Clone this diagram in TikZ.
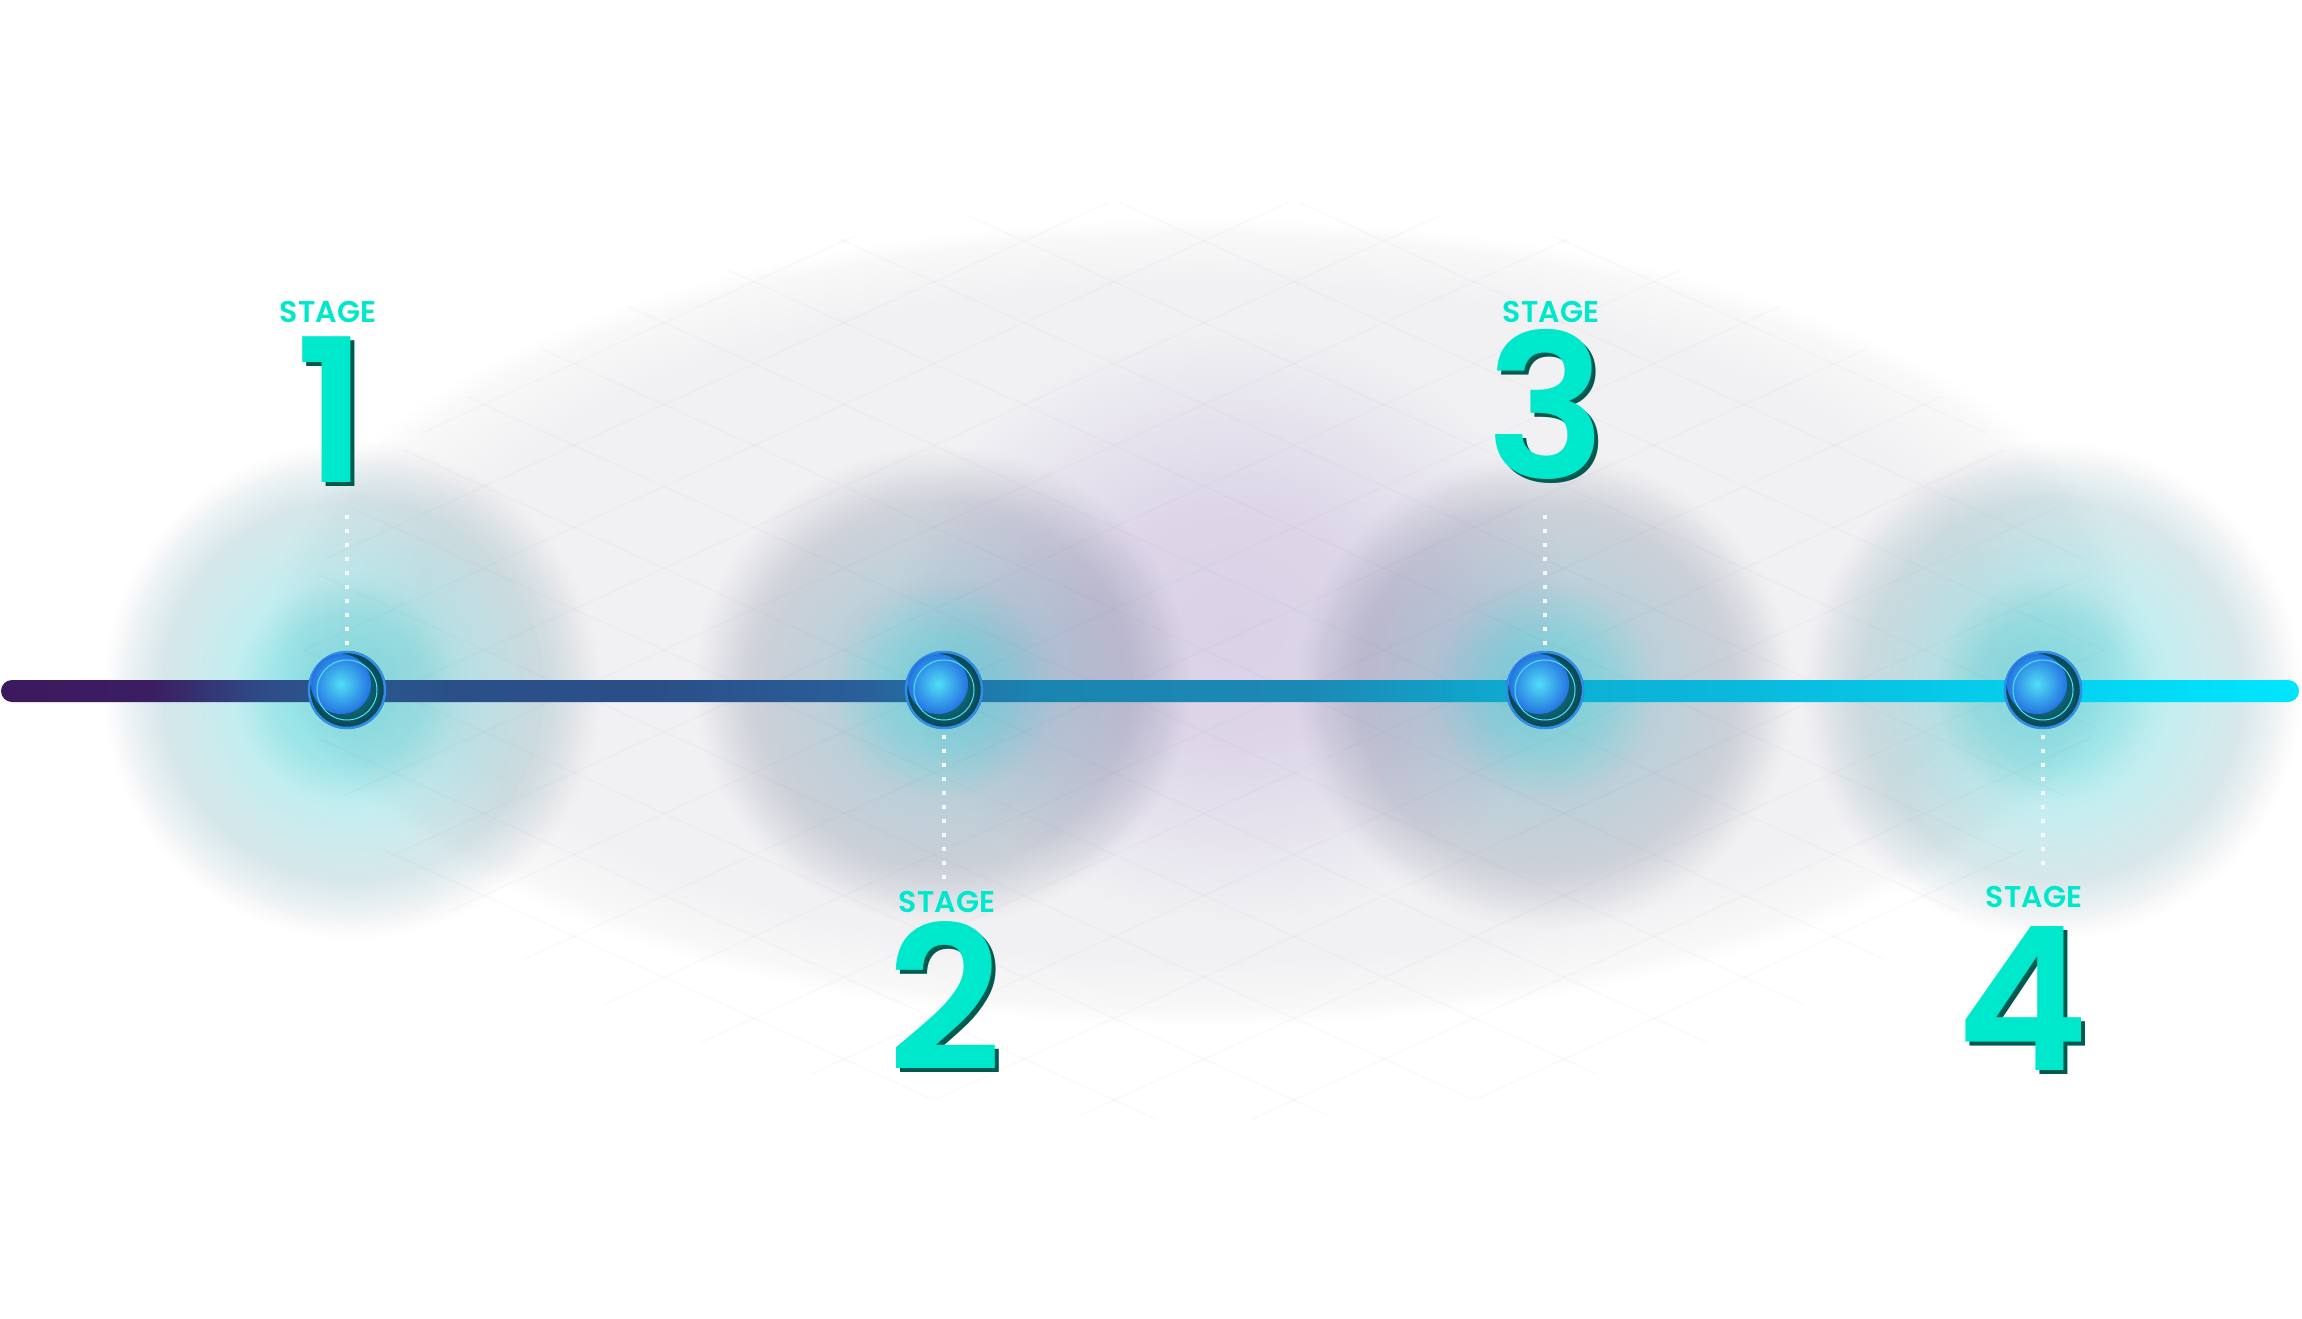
\documentclass[tikz,border=0pt]{standalone}
\usepackage{fontspec}
\setmainfont{Poppins}
\newfontfamily\popsemi{Poppins SemiBold}
\definecolor{stagecol}{HTML}{00E8CC}
\definecolor{shadowcol}{HTML}{005A50}
\definecolor{ringdark}{HTML}{0B4654}
\definecolor{ringmid}{HTML}{138C9C}
\definecolor{ringblue}{HTML}{2F8FE8}
\definecolor{ballhi}{HTML}{52DDF6}
\definecolor{balllo}{HTML}{2474E2}
\definecolor{ballrim}{HTML}{4FE3F5}
\definecolor{glowcyan}{HTML}{B4F0F0}
\definecolor{glowcore}{HTML}{D6F8FA}
\definecolor{glowgray}{HTML}{EAEBEE}
\definecolor{glowgraylt}{HTML}{F8F8FA}
\definecolor{glowbluec}{HTML}{B2EAEE}
\definecolor{glowblue}{HTML}{CCE2E8}
\definecolor{glowbluelt}{HTML}{E8EDF2}
\definecolor{glowpurple}{HTML}{E6DEF2}
\definecolor{bggray}{HTML}{F1F1F3}
\definecolor{gridcol}{HTML}{8A8AA8}
\definecolor{dotcol}{HTML}{F6F8FA}
\definecolor{lc0}{HTML}{3C195E}
\definecolor{lc1}{HTML}{3B1E62}
\definecolor{lc2}{HTML}{2E4C88}
\definecolor{lc3}{HTML}{2A5890}
\definecolor{lc4}{HTML}{2B5088}
\definecolor{lc5}{HTML}{2B4E88}
\definecolor{lc6}{HTML}{2A5E98}
\definecolor{lc7}{HTML}{2270A8}
\definecolor{lc8}{HTML}{1A85B0}
\definecolor{lc9}{HTML}{1C88B4}
\definecolor{lc10}{HTML}{12A0C8}
\definecolor{lc11}{HTML}{0CB0D4}
\definecolor{lc12}{HTML}{0BB6DA}
\definecolor{lc13}{HTML}{05D0EE}
\definecolor{lc14}{HTML}{00E6FF}
\pgfdeclarehorizontalshading{lineshade}{50bp}{%
  color(0bp)=(lc0); color(3.3bp)=(lc1); color(5.7bp)=(lc2); color(7.5bp)=(lc3);
  color(9.8bp)=(lc4); color(14.1bp)=(lc5); color(18.5bp)=(lc6); color(20.5bp)=(lc7);
  color(22.6bp)=(lc8); color(28.3bp)=(lc9); color(31.5bp)=(lc10); color(33.6bp)=(lc11);
  color(37bp)=(lc12); color(44.4bp)=(lc13); color(50bp)=(lc14)}
% path edge corresponds to 25bp
\pgfdeclareradialshading{bgshade}{\pgfpointorigin}{%
  color(0bp)=(bggray); color(21bp)=(bggray); color(24bp)=(bggray!45!white); color(25bp)=(white); color(50bp)=(white)}
\pgfdeclareradialshading{cyanshade}{\pgfpointorigin}{%
  color(0bp)=(glowcyan); color(8bp)=(glowcyan); color(17bp)=(glowcyan!45!white); color(25bp)=(white); color(50bp)=(white)}
\pgfdeclareradialshading{blueshade}{\pgfpointorigin}{%
  color(0bp)=(glowbluec); color(6bp)=(glowbluec); color(12bp)=(glowblue); color(19bp)=(glowbluelt); color(25bp)=(white); color(50bp)=(white)}
\pgfdeclareradialshading{grayshade}{\pgfpointorigin}{%
  color(0bp)=(glowgraylt); color(12bp)=(glowgraylt); color(19bp)=(glowgray); color(23bp)=(glowgray!50!white); color(25bp)=(white); color(50bp)=(white)}
\pgfdeclareradialshading{purpleshade}{\pgfpointorigin}{%
  color(0bp)=(glowpurple); color(10bp)=(glowpurple!85!white); color(25bp)=(white); color(50bp)=(white)}
\pgfdeclareradialshading{coreshade}{\pgfpointorigin}{%
  color(0bp)=(glowcore); color(10bp)=(glowcore); color(25bp)=(white); color(50bp)=(white)}
\tikzset{
  digit/.style={text=stagecol, font=\popsemi\fontsize{200}{200}\selectfont, inner sep=0pt, anchor=base},
  digitshadow/.style={text=shadowcol, font=\popsemi\fontsize{200}{200}\selectfont, inner sep=0pt, anchor=base},
  stagelbl/.style={text=stagecol, font=\popsemi\fontsize{30}{30}\selectfont, inner sep=0pt, anchor=base},
  stagenode/.style={circle, minimum size=80pt, inner sep=0pt},
  dotline/.style={draw=dotcol, line width=3.5pt, dash pattern=on 3.5pt off 10.5pt},
  gridline/.style={draw=gridcol, opacity=0.035, line width=2pt},
  mult/.style={blend mode=multiply},
}
\newcommand{\drawball}[1]{%
  \fill[ringdark] (#1) circle (39);
  \shade[inner color=ringmid, outer color=ringdark] (#1) circle (37);
  \draw[ringblue, line width=2.5pt] (#1) circle (38);
  \shade[inner color=ballhi, outer color=balllo] ([xshift=-6pt,yshift=6pt]#1) circle (30);
  \draw[ballrim, line width=1pt] (#1) circle (30);
}
\begin{document}
\begin{tikzpicture}[x=1pt,y=-1pt]
\useasboundingbox (0,0) rectangle (2302,1319);
\fill[white] (0,0) rectangle (2302,1319);
% big soft ellipse
\shade[shading=bgshade] (1204,622) ellipse (935 and 405);
% grid
\begin{scope}
\clip (1204,660) ellipse (900 and 460);
\foreach \i in {-14,...,14} {
  \draw[gridline] ({1204+\i*180-1100},{650-500}) -- ({1204+\i*180+1100},{650+500});
  \draw[gridline] ({1204+\i*180+1100},{650-500}) -- ({1204+\i*180-1100},{650+500});
}
\end{scope}
% glows
\begin{scope}[mult]
\shade[shading=purpleshade] (1233,625) ellipse (340 and 300);
\shade[shading=grayshade] (352,690) circle (250);
\shade[shading=grayshade] (2052,690) circle (250);
\shade[shading=grayshade] (942,685) ellipse (250 and 240);
\shade[shading=grayshade] (1545,690) ellipse (250 and 240);
\shade[shading=cyanshade] (350,690) circle (235);
\shade[shading=cyanshade] (2050,690) circle (235);
\shade[shading=blueshade] (944,690) ellipse (235 and 225);
\shade[shading=blueshade] (1545,690) ellipse (235 and 225);
\foreach \x in {347,944,1545,2043} \shade[shading=coreshade] (\x,690) circle (110);
\end{scope}
% timeline
\shade[shading=lineshade, rounded corners=11pt] (1,680) rectangle (2299,702);
% stage nodes
\node[stagenode] (n1) at (347,690) {};
\node[stagenode] (n2) at (944,690) {};
\node[stagenode] (n3) at (1545,690) {};
\node[stagenode] (n4) at (2043,690) {};
\drawball{n1}
\drawball{n2}
\drawball{n3}
\drawball{n4}
% dotted leaders
\coordinate (d1) at (347,506);
\coordinate (d2) at (944,881);
\coordinate (d3) at (1545,506);
\coordinate (d4) at (2043,873);
\draw[dotline] (n1.north) ++(0,-5) -- (d1);
\draw[dotline] (n2.south) ++(0,5) -- (d2);
\draw[dotline] (n3.north) ++(0,-5) -- (d3);
\draw[dotline] (n4.south) ++(0,5) -- (d4);
% labels
\node[stagelbl] (s1) at (328,322) {STAGE};
\node[stagelbl] (s2) at (947,912) {STAGE};
\node[stagelbl] (s3) at (1551,322) {STAGE};
\node[stagelbl] (s4) at (2034,907) {STAGE};
\node[digitshadow] at (336,486) {1};
\node[digit] (g1) at (332,482) {1};
\node[digitshadow] at (949,1074) {2};
\node[digit] (g2) at (945,1070) {2};
\node[digitshadow] at (1550,482) {3};
\node[digit] (g3) at (1546,478) {3};
\node[digitshadow] at (2027,1074) {4};
\node[digit] (g4) at (2023,1070) {4};
\end{tikzpicture}
\end{document}
